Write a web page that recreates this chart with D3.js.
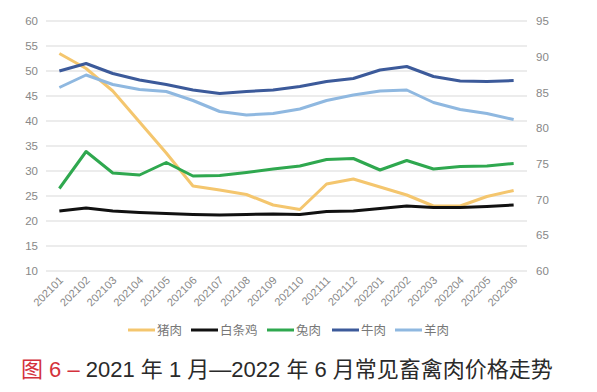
<!DOCTYPE html>
<html><head><meta charset="utf-8">
<script src="https://cdn.jsdelivr.net/npm/d3@7"></script>
<style>body{margin:0;background:#fff;}svg{display:block;}</style>
</head><body>
<svg id="c" width="597" height="392"></svg>
<script>
const months = ["202101","202102","202103","202104","202105","202106","202107","202108","202109","202110","202111","202112","202201","202202","202203","202204","202205","202206"];
const pork    = [53.5,50.5,46.0,39.8,33.6,27.0,26.2,25.3,23.2,22.3,27.4,28.4,26.8,25.2,23.0,23.0,24.9,26.1];
const chicken = [22.0,22.6,22.0,21.7,21.5,21.3,21.2,21.3,21.4,21.3,21.9,22.0,22.5,23.0,22.7,22.7,22.9,23.2];
const rabbit  = [26.5,33.9,29.6,29.2,31.7,29.0,29.1,29.7,30.4,31.0,32.3,32.5,30.2,32.1,30.4,30.9,31.0,31.5];
const beef    = [50.0,51.5,49.5,48.2,47.3,46.2,45.5,45.9,46.2,46.9,47.9,48.5,50.2,50.9,48.9,48.0,47.9,48.1];
const mutton  = [46.7,49.2,47.3,46.3,45.9,44.1,41.9,41.2,41.5,42.4,44.1,45.2,46.0,46.2,43.7,42.3,41.5,40.3];
const seriesNames = ["猪肉","白条鸡","兔肉","牛肉","羊肉"];
const seriesColors = ["#f4c66e","#111111","#2fa84f","#3c5a9a","#8fb8e0"];
const leftTicks = [10,15,20,25,30,35,40,45,50,55,60];
const rightTicks = [60,65,70,75,80,85,90,95];

const svg = d3.select("#c");
const L = 46, R = 527, T = 21, B = 271;
const x = d3.scalePoint().domain(months).range([L, R]).padding(0.5);
const y = d3.scaleLinear().domain([10, 60]).range([B, T]);
const y2 = d3.scaleLinear().domain([60, 95]).range([B, T]);

// grid
svg.append("g").selectAll("line").data(leftTicks).join("line")
  .attr("x1", L).attr("x2", R).attr("y1", d => y(d)).attr("y2", d => y(d))
  .attr("stroke", "#d9d9d9").attr("stroke-width", 1);

// left axis
const la = svg.append("g").attr("transform", `translate(${L},0)`)
  .call(d3.axisLeft(y).tickValues(leftTicks).tickSize(0).tickPadding(8));
la.select(".domain").remove();
la.selectAll("text").attr("fill", "#888").style("font-family", "Liberation Sans, Arial, sans-serif").style("font-size", "11.5px");

// right axis
const ra = svg.append("g").attr("transform", `translate(${R},0)`)
  .call(d3.axisRight(y2).tickValues(rightTicks).tickSize(0).tickPadding(9));
ra.select(".domain").remove();
ra.selectAll("text").attr("fill", "#888").style("font-family", "Liberation Sans, Arial, sans-serif").style("font-size", "11.5px");

// x axis
const xa = svg.append("g").attr("transform", `translate(0,${B})`)
  .call(d3.axisBottom(x).tickSize(0).tickPadding(0));
xa.select(".domain").remove();
xa.selectAll("text")
  .attr("fill", "#888")
  .style("font-family", "Liberation Sans, Arial, sans-serif").style("font-size", "11px")
  .attr("text-anchor", "end")
  .attr("dy", "0")
  .attr("transform", "translate(4,10) rotate(-45)");

// lines
const data = [pork, chicken, rabbit, beef, mutton];
const line = d3.line().x((d, i) => x(months[i])).y(d => y(d));
svg.append("g").selectAll("path").data(data).join("path")
  .attr("d", d => line(d))
  .attr("fill", "none")
  .attr("stroke", (d, i) => seriesColors[i])
  .attr("stroke-width", 3)
  .attr("stroke-linejoin", "round");

// legend
const legX = [128, 191, 267, 332, 395];
const lg = svg.append("g");
seriesNames.forEach((n, i) => {
  lg.append("line").attr("x1", legX[i]).attr("x2", legX[i] + 27).attr("y1", 330).attr("y2", 330)
    .attr("stroke", seriesColors[i]).attr("stroke-width", 3);
  lg.append("text").attr("x", legX[i] + 29).attr("y", 334.5).text(n)
    .attr("fill", "#777").style("font-family", "Noto Sans CJK SC, sans-serif").style("font-size", "12.5px");
});

// title
const t = svg.append("text").attr("x", 21).attr("y", 377)
  .style("font-family", "Liberation Sans, Noto Sans CJK SC, sans-serif").style("font-size", "22px");
t.append("tspan").attr("fill", "#d4323c").text("图 6 – ");
t.append("tspan").attr("fill", "#2a2a2a").text("2021 年 1 月—2022 年 6 月常见畜禽肉价格走势");
</script>
</body></html>
